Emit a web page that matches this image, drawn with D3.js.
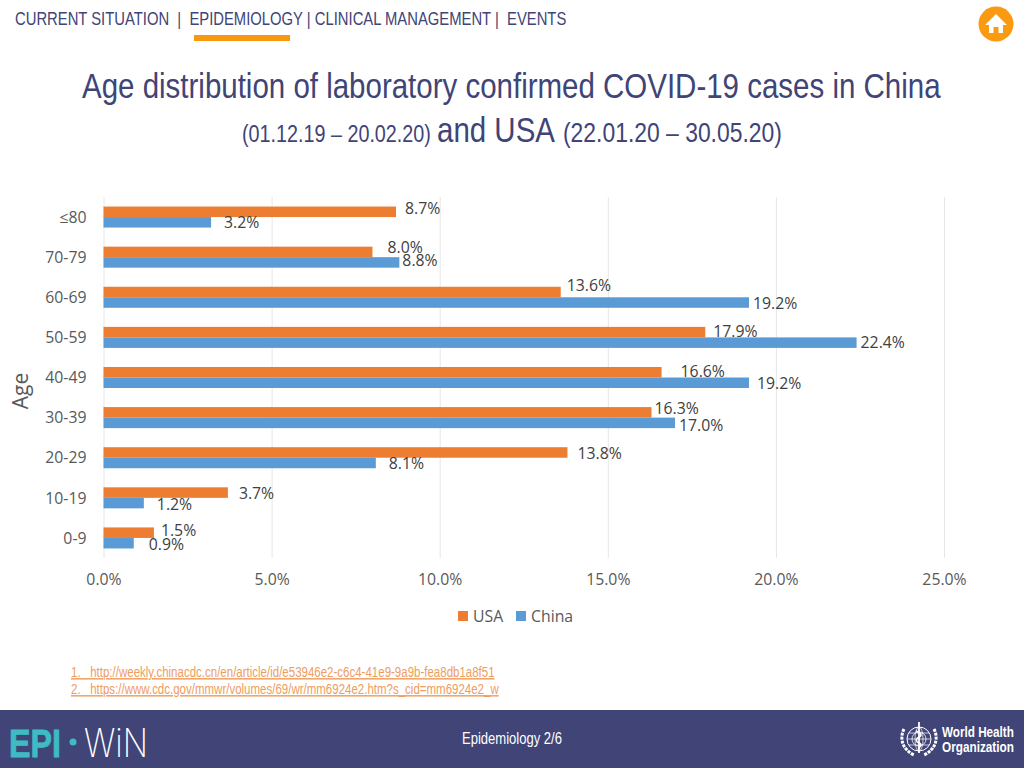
<!DOCTYPE html>
<html><head><meta charset="utf-8">
<script src="https://cdn.jsdelivr.net/npm/d3@7"></script>
<style>html,body{margin:0;padding:0;background:#fff;overflow:hidden}svg{display:block}text{white-space:pre}</style>
</head><body><svg id="c" width="1024" height="768"></svg>
<script>
const ages=["≤80","70-79","60-69","50-59","40-49","30-39","20-29","10-19","0-9"];
const usa=[8.7,8.0,13.6,17.9,16.6,16.3,13.8,3.7,1.5];
const china=[3.2,8.8,19.2,22.4,19.2,17.0,8.1,1.2,0.9];
const xTicks=[0,5,10,15,20,25];
const seriesNames=["USA","China"];
const colors={USA:"#ed7d31",China:"#5b9bd5"};
const usaLabelShift=[[9,-3],[15,-5],[6,-7],[8,-1],[19,-1],[3,-4],[10,1],[11,1],[7,-2]];
const chinaLabelShift=[[13,0],[3,-2],[4,1],[4,0],[8,1],[4,2],[13,0],[13,1],[15,1]];
const navy="#404476", narrow="'Liberation Sans',sans-serif", chartFont="'Open Sans',sans-serif";
const svg=d3.select("#c");
// Narrow look: scale the text horizontally to the measured width in the reference.
function squeezed(sel,w){
  const tx=+sel.attr("x"),ty=+sel.attr("y"),len=sel.node().getComputedTextLength();
  return sel.attr("x",0).attr("y",0).attr("transform",`translate(${tx},${ty}) scale(${w/len},1)`);
}

// header
squeezed(svg.append("text").attr("x",15).attr("y",25).attr("fill",navy).attr("font-family",narrow).attr("font-size",18)
  .text("CURRENT SITUATION  |  EPIDEMIOLOGY | CLINICAL MANAGEMENT |  EVENTS"),552);
svg.append("rect").attr("x",194).attr("y",35).attr("width",96).attr("height",6).attr("fill","#f7980f");
svg.append("circle").attr("cx",996).attr("cy",24).attr("r",17.5).attr("fill","#fa9a10");
svg.append("path").attr("fill","#fff").attr("d","M996 14 L1007 25 L1003 25 L1003 33 L998.5 33 L998.5 27 L993.5 27 L993.5 33 L989 33 L989 25 L985 25 Z");

// title
squeezed(svg.append("text").attr("x",82).attr("y",98).attr("fill",navy).attr("font-family",narrow).attr("font-size",36)
  .text("Age distribution of laboratory confirmed COVID-19 cases in China"),859);
const sub=svg.append("g").attr("fill",navy).attr("font-family",narrow);
squeezed(sub.append("text").attr("x",242).attr("y",142).attr("font-size",24).text("(01.12.19 – 20.02.20)"),189);
squeezed(sub.append("text").attr("x",437).attr("y",142).attr("font-size",35).text("and USA"),118);
squeezed(sub.append("text").attr("x",563).attr("y",142).attr("font-size",28).text("(22.01.20 – 30.05.20)"),219);

// chart
const x=d3.scaleLinear().domain([0,25]).range([103.5,944]);
const y=d3.scaleBand().domain(ages).range([197,558]).paddingInner(0.476).paddingOuter(0.238);
const y1=d3.scaleBand().domain(seriesNames).range([0,y.bandwidth()]);

const gx=svg.append("g").attr("transform","translate(0,558)")
  .call(d3.axisBottom(x).tickValues(xTicks).tickFormat(d=>d.toFixed(1)+"%").tickSize(-361).tickPadding(16));
gx.select(".domain").remove();
gx.selectAll("line").attr("stroke","#e6e6e6").attr("stroke-width",1);
gx.selectAll("text").attr("font-family",chartFont).attr("font-size",15.8).attr("fill","#595959");

const gy=svg.append("g").attr("transform","translate(103.5,0)")
  .call(d3.axisLeft(y).tickSize(0).tickPadding(17));
gy.select(".domain").remove();
gy.selectAll("text").attr("font-family",chartFont).attr("font-size",15.8).attr("fill","#595959").attr("dy","0.36em");

const rows=[{name:"USA",vals:usa,shift:usaLabelShift},{name:"China",vals:china,shift:chinaLabelShift}];
rows.forEach(s=>{
  const g=svg.append("g");
  g.selectAll("rect").data(s.vals).join("rect")
    .attr("x",x(0)).attr("y",(d,i)=>y(ages[i])+y1(s.name))
    .attr("width",d=>x(d)-x(0)).attr("height",y1.bandwidth()).attr("fill",colors[s.name]);
  g.selectAll("text").data(s.vals).join("text")
    .attr("x",(d,i)=>x(d)+s.shift[i][0])
    .attr("y",(d,i)=>y(ages[i])+y1(s.name)+y1.bandwidth()/2+s.shift[i][1])
    .attr("dy","0.36em").attr("font-family",chartFont).attr("font-size",15.8).attr("fill","#404040")
    .text(d=>d.toFixed(1)+"%");
});

svg.append("text").attr("transform","translate(21,391) rotate(-90)").attr("text-anchor","middle").attr("dy","0.35em")
  .attr("font-family",chartFont).attr("font-size",21).attr("fill","#595959").text("Age");

// legend
const legendX={USA:458,China:516};
seriesNames.forEach(n=>{
  svg.append("rect").attr("x",legendX[n]).attr("y",611).attr("width",10).attr("height",10).attr("fill",colors[n]);
  svg.append("text").attr("x",legendX[n]+15).attr("y",616).attr("dy","0.36em").attr("font-family",chartFont)
    .attr("font-size",15.8).attr("fill","#595959").text(n);
});

// references
const refs=["1.   http://weekly.chinacdc.cn/en/article/id/e53946e2-c6c4-41e9-9a9b-fea8db1a8f51","2.   https://www.cdc.gov/mmwr/volumes/69/wr/mm6924e2.htm?s_cid=mm6924e2_w"];
const refW=[424,428];
refs.forEach((t,i)=>{
  squeezed(svg.append("text").attr("x",71).attr("y",677+i*17).attr("fill","#ee9d5e").attr("font-family",narrow)
    .attr("font-size",14.5).attr("text-decoration","underline").text(t),refW[i]);
});

// footer
svg.append("rect").attr("x",0).attr("y",710).attr("width",1024).attr("height",58).attr("fill",navy);
squeezed(svg.append("text").attr("x",9).attr("y",757).attr("fill","#3dbcc4").attr("stroke","#3dbcc4").attr("stroke-width",.8).attr("font-family",narrow).attr("font-weight",700)
  .attr("font-size",39).text("EPI"),52);
svg.append("circle").attr("cx",73).attr("cy",742).attr("r",3.5).attr("fill","#3dbcc4");
squeezed(svg.append("text").attr("x",84).attr("y",757).attr("fill","#fff").attr("font-family","Inter,sans-serif").attr("font-weight",200)
  .attr("font-size",39).text("WiN"),64);
squeezed(svg.append("text").attr("x",462).attr("y",744).attr("fill","#fff").attr("font-family",narrow)
  .attr("font-size",16).text("Epidemiology 2/6"),100);

// WHO emblem
const who=svg.append("g").attr("transform","translate(919,739)").attr("fill","none").attr("stroke","#fff");
who.append("circle").attr("r",12).attr("stroke-width",1);
who.append("circle").attr("r",7).attr("stroke-width",.8);
who.append("ellipse").attr("rx",4).attr("ry",12).attr("stroke-width",.7);
who.append("path").attr("d","M-12 0H12M-10-6H10M-10 6H10").attr("stroke-width",.7);
who.append("path").attr("d","M0-17V14").attr("stroke-width",1.8);
who.append("path").attr("d","M-3-8C3-6 3-3 0-2C-4 0-3 3 0 4C3 5 2 8-1 9").attr("stroke-width",1.6);
who.append("path").attr("d","M-15-10C-20 0-16 11-5 16M15-10C20 0 16 11 5 16").attr("stroke-width",3).attr("stroke-dasharray","3 1");
const whoT=svg.append("g").attr("fill","#fff").attr("font-family",narrow).attr("font-weight",700).attr("font-size",15);
squeezed(whoT.append("text").attr("x",942).attr("y",737).text("World Health"),72);
squeezed(whoT.append("text").attr("x",942).attr("y",752).text("Organization"),72);
</script></body></html>
